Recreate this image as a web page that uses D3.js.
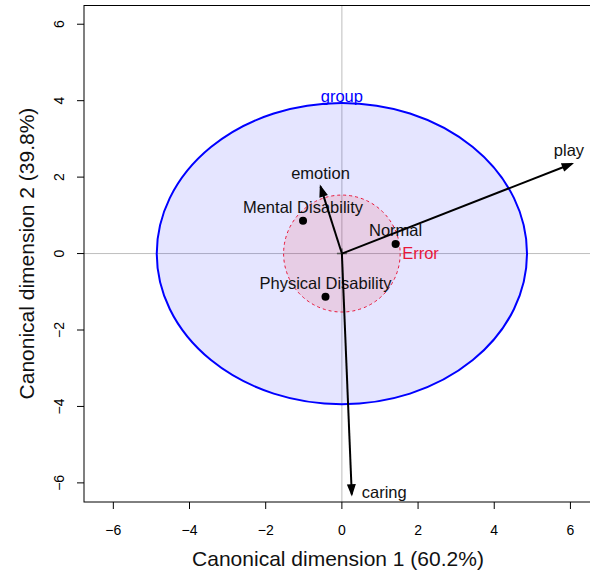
<!DOCTYPE html>
<html>
<head>
<meta charset="utf-8">
<script src="https://cdn.jsdelivr.net/npm/d3@7"></script>
<style>
  body { margin: 0; background: #fff; }
  text { font-family: "Liberation Sans", Arial, Helvetica, sans-serif; }
</style>
</head>
<body>
<div id="chart"></div>
<script>
var wi = 590;
var he = 574;

// group means (canonical scores)
var groups = ["Mental Disability", "Normal", "Physical Disability"];
var groupX = [-1.02, 1.41, -0.43];
var groupY = [0.86, 0.25, -1.13];

// structure vectors
var vars = ["play", "emotion", "caring"];
var varX = [6.04, -0.56, 0.26];
var varY = [2.35, 1.75, -6.30];

// H and E ellipses (semi-axes)
var hAxes = [4.86, 3.94];
var eAxes = [1.53, 1.53];

var ticks = [-6, -4, -2, 0, 2, 4, 6];

var pLeft = 84, pRight = 591, pTop = 5.5, pBottom = 502;

var x = d3.scaleLinear().domain([-6.77, 6.54]).range([pLeft, pRight]);
var y = d3.scaleLinear().domain([-6.50, 6.49]).range([pBottom, pTop]);

var svg = d3.select("#chart").append("svg")
    .attr("width", wi)
    .attr("height", he);

svg.append("clipPath").attr("id", "clip")
    .append("rect")
    .attr("x", pLeft).attr("y", pTop)
    .attr("width", pRight - pLeft).attr("height", pBottom - pTop);

var plot = svg.append("g").attr("clip-path", "url(#clip)");

// reference lines
plot.append("line")
    .attr("x1", x(0)).attr("x2", x(0))
    .attr("y1", pTop).attr("y2", pBottom)
    .attr("stroke", "#bebebe").attr("stroke-width", 1);
plot.append("line")
    .attr("x1", pLeft).attr("x2", pRight)
    .attr("y1", y(0)).attr("y2", y(0))
    .attr("stroke", "#bebebe").attr("stroke-width", 1);

// H ellipse
plot.append("ellipse")
    .attr("cx", x(0)).attr("cy", y(0))
    .attr("rx", x(hAxes[0]) - x(0))
    .attr("ry", y(0) - y(hAxes[1]))
    .attr("fill", "rgba(0,0,255,0.1)")
    .attr("stroke", "blue").attr("stroke-width", 2);

// E ellipse
plot.append("ellipse")
    .attr("cx", x(0)).attr("cy", y(0))
    .attr("rx", x(eAxes[0]) - x(0))
    .attr("ry", y(0) - y(eAxes[1]))
    .attr("fill", "rgba(255,0,0,0.1)")
    .attr("stroke", "#e8173a").attr("stroke-width", 1)
    .attr("stroke-dasharray", "3,3");

// labels for ellipses
plot.append("text")
    .attr("x", x(0)).attr("y", y(hAxes[1]) - 1)
    .attr("text-anchor", "middle")
    .attr("font-size", 16.5)
    .attr("fill", "blue")
    .text("group");
plot.append("text")
    .attr("x", x(eAxes[0]) + 2).attr("y", y(0) + 5)
    .attr("font-size", 16.5)
    .attr("fill", "#e8173a")
    .text("Error");

// grand mean marker
plot.append("path")
    .attr("d", "M" + (x(0) - 5) + "," + y(0) + "h10M" + x(0) + "," + (y(0) - 5) + "v10")
    .attr("stroke", "#555").attr("stroke-width", 1.5);

// group means
plot.selectAll("circle.mean")
    .data(groups)
    .enter()
    .append("circle")
    .attr("class", "mean")
    .attr("cx", function(d, i) { return x(groupX[i]); })
    .attr("cy", function(d, i) { return y(groupY[i]); })
    .attr("r", 4)
    .attr("fill", "black");

plot.selectAll("text.mean")
    .data(groups)
    .enter()
    .append("text")
    .attr("class", "mean")
    .attr("x", function(d, i) { return x(groupX[i]); })
    .attr("y", function(d, i) { return y(groupY[i]) - 8; })
    .attr("text-anchor", "middle")
    .attr("font-size", 16.5)
    .attr("fill", "#111")
    .text(function(d) { return d; });

// variable vectors
var arrowG = plot.append("g");
vars.forEach(function(v, i) {
  var x0 = x(0), y0 = y(0), x1 = x(varX[i]), y1 = y(varY[i]);
  var ang = Math.atan2(y1 - y0, x1 - x0);
  var hl = 10, ha = Math.PI / 9;
  arrowG.append("line")
      .attr("x1", x0).attr("y1", y0)
      .attr("x2", x1).attr("y2", y1)
      .attr("stroke", "black").attr("stroke-width", 2);
  arrowG.append("path")
      .attr("d", "M" + (x1 - hl * Math.cos(ang - ha)) + "," + (y1 - hl * Math.sin(ang - ha)) +
                 "L" + x1 + "," + y1 +
                 "L" + (x1 - hl * Math.cos(ang + ha)) + "," + (y1 - hl * Math.sin(ang + ha)) + "Z")
      .attr("fill", "black")
      .attr("stroke", "black").attr("stroke-width", 1.5);
});

// vector labels
var labelStyle = {
  play:    { dx: -3, dy: -8, anchor: "middle" },
  emotion: { dx: 0,  dy: -8, anchor: "middle" },
  caring:  { dx: 10, dy: 4,  anchor: "start" }
};
vars.forEach(function(v, i) {
  arrowG.append("text")
      .attr("x", x(varX[i]) + labelStyle[v].dx)
      .attr("y", y(varY[i]) + labelStyle[v].dy)
      .attr("text-anchor", labelStyle[v].anchor)
      .attr("font-size", 16.5)
      .attr("fill", "#111")
      .text(v);
});

// frame
svg.append("rect")
    .attr("x", pLeft).attr("y", pTop)
    .attr("width", pRight - pLeft).attr("height", pBottom - pTop)
    .attr("fill", "none").attr("stroke", "black").attr("stroke-width", 1);

// x axis
var xAxis = svg.append("g");
xAxis.selectAll("line")
    .data(ticks).enter().append("line")
    .attr("x1", function(d) { return x(d); }).attr("x2", function(d) { return x(d); })
    .attr("y1", pBottom).attr("y2", pBottom + 7)
    .attr("stroke", "black");
xAxis.selectAll("text")
    .data(ticks).enter().append("text")
    .attr("x", function(d) { return x(d); })
    .attr("y", 535)
    .attr("text-anchor", "middle")
    .attr("font-size", 14)
    .text(function(d) { return d < 0 ? "\u2212" + Math.abs(d) : d; });

// y axis
var yAxis = svg.append("g");
yAxis.selectAll("line")
    .data(ticks).enter().append("line")
    .attr("x1", pLeft - 7).attr("x2", pLeft)
    .attr("y1", function(d) { return y(d); }).attr("y2", function(d) { return y(d); })
    .attr("stroke", "black");
yAxis.selectAll("text")
    .data(ticks).enter().append("text")
    .attr("transform", function(d) { return "translate(64," + y(d) + ") rotate(-90)"; })
    .attr("text-anchor", "middle")
    .attr("font-size", 14)
    .text(function(d) { return d < 0 ? "\u2212" + Math.abs(d) : d; });

// axis titles
svg.append("text")
    .attr("x", (pLeft + 590) / 2 + 1)
    .attr("y", 566)
    .attr("text-anchor", "middle")
    .attr("font-size", 21)
    .attr("fill", "#111")
    .text("Canonical dimension 1 (60.2%)");
svg.append("text")
    .attr("transform", "translate(34," + y(0) + ") rotate(-90)")
    .attr("text-anchor", "middle")
    .attr("font-size", 21)
    .attr("fill", "#111")
    .text("Canonical dimension 2 (39.8%)");
</script>
</body>
</html>
